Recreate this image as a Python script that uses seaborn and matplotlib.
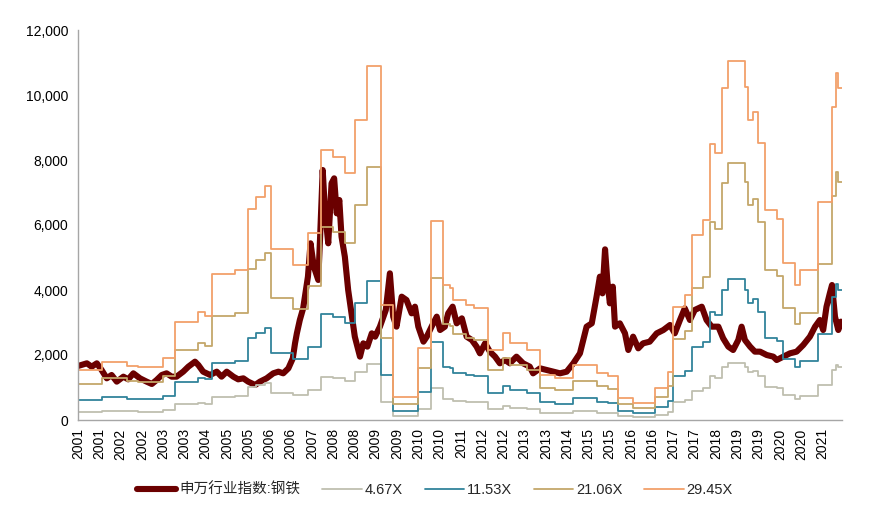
import numpy as np
import pandas as pd
import seaborn as sns
import matplotlib.pyplot as plt
from matplotlib.ticker import FuncFormatter

# ==[ Data ]==============================================================
# steel index level (x in fractional years)
idx_year = [2001.00, 2001.24, 2001.37, 2001.51, 2001.64, 2001.78, 2001.91, 2002.05,
            2002.23, 2002.36, 2002.50, 2002.68, 2002.86, 2003.00, 2003.13, 2003.27,
            2003.40, 2003.54, 2003.67, 2003.85, 2003.99, 2004.17, 2004.26, 2004.39,
            2004.58, 2004.76, 2004.89, 2005.03, 2005.21, 2005.34, 2005.48, 2005.61,
            2005.80, 2005.93, 2006.11, 2006.29, 2006.43, 2006.56, 2006.70, 2006.82,
            2006.88, 2006.93, 2007.01, 2007.10, 2007.23, 2007.30, 2007.39, 2007.51,
            2007.56, 2007.63, 2007.69, 2007.78, 2007.87, 2007.94, 2008.01, 2008.08,
            2008.14, 2008.23, 2008.32, 2008.41, 2008.50, 2008.64, 2008.73, 2008.84,
            2008.96, 2009.05, 2009.18, 2009.34, 2009.45, 2009.54, 2009.63, 2009.77,
            2009.90, 2010.04, 2010.13, 2010.22, 2010.36, 2010.45, 2010.58, 2010.72,
            2010.81, 2010.94, 2011.03, 2011.15, 2011.26, 2011.40, 2011.53, 2011.67,
            2011.80, 2011.89, 2012.03, 2012.16, 2012.30, 2012.43, 2012.57, 2012.70,
            2012.88, 2013.06, 2013.24, 2013.33, 2013.52, 2013.70, 2013.88, 2014.06,
            2014.24, 2014.42, 2014.60, 2014.78, 2014.92, 2015.05, 2015.14, 2015.21,
            2015.28, 2015.34, 2015.41, 2015.49, 2015.55, 2015.68, 2015.82, 2015.91,
            2016.04, 2016.18, 2016.31, 2016.49, 2016.68, 2016.86, 2017.04, 2017.17,
            2017.31, 2017.44, 2017.58, 2017.71, 2017.90, 2018.03, 2018.17, 2018.35,
            2018.48, 2018.62, 2018.75, 2018.89, 2018.98, 2019.07, 2019.21, 2019.34,
            2019.48, 2019.66, 2019.84, 2019.93, 2020.11, 2020.29, 2020.47, 2020.65,
            2020.83, 2020.97, 2021.10, 2021.19, 2021.28, 2021.37, 2021.43, 2021.51,
            2021.60, 2021.67]
idx_value = [1662, 1744, 1640, 1744, 1538, 1282, 1385, 1180,
             1333, 1251, 1436, 1282, 1180, 1108, 1231, 1385,
             1436, 1333, 1333, 1487, 1641, 1795, 1692, 1487,
             1385, 1487, 1333, 1487, 1333, 1251, 1282, 1180,
             1077, 1180, 1282, 1436, 1487, 1436, 1590, 1897,
             2359, 2667, 3077, 3436, 4410, 5436, 4718, 4308,
             5641, 7692, 6462, 5436, 7282, 7436, 6359, 6769,
             5641, 5025, 4000, 3282, 2564, 1949, 2359, 2257,
             2667, 2564, 2872, 3385, 4513, 3180, 2872, 3795,
             3692, 3282, 3487, 2872, 2410, 2564, 2872, 3180,
             2769, 2872, 3282, 3487, 2974, 3128, 2564, 2462,
             2257, 2051, 2359, 2103, 1949, 1744, 1846, 1744,
             1949, 1744, 1641, 1436, 1590, 1538, 1487, 1436,
             1487, 1744, 2051, 2872, 2974, 3795, 4410, 3897,
             5251, 4308, 3590, 4103, 2872, 2974, 2667, 2154,
             2564, 2205, 2359, 2410, 2667, 2769, 2923, 2667,
             3077, 3436, 3077, 3385, 3487, 3077, 2872, 2872,
             2513, 2257, 2154, 2462, 2872, 2462, 2257, 2103,
             2103, 2000, 1949, 1846, 1949, 2051, 2103, 2308,
             2564, 2872, 3077, 2769, 3487, 3897, 4154, 3180,
             2769, 3026]

# earnings per index point (step changes); band = eps * multiple
eps_year = [2001.00, 2001.65, 2002.33, 2002.63, 2003.30, 2003.63, 2004.25, 2004.44,
            2004.63, 2005.25, 2005.61, 2005.82, 2006.07, 2006.23, 2006.82, 2007.23,
            2007.58, 2007.91, 2008.23, 2008.50, 2008.83, 2009.21, 2009.53, 2010.21,
            2010.56, 2010.89, 2011.08, 2011.16, 2011.51, 2011.73, 2012.11, 2012.51,
            2012.70, 2013.16, 2013.52, 2013.92, 2014.41, 2015.06, 2015.36, 2015.63,
            2016.04, 2016.63, 2016.98, 2017.12, 2017.44, 2017.63, 2017.93, 2018.12,
            2018.26, 2018.45, 2018.61, 2019.07, 2019.15, 2019.29, 2019.42, 2019.61,
            2019.94, 2020.10, 2020.42, 2020.56, 2021.05, 2021.43, 2021.53, 2021.59,
            2021.70]
eps_value = [52.3, 60.8, 56.4, 55.0, 64.5, 102.2, 113.1, 108.7,
             152.5, 156.9, 220.0, 233.3, 244.5, 178.3, 162.0, 195.2,
             282.2, 275.0, 258.1, 313.4, 370.1, 120.2, 24.1, 75.6,
             208.1, 140.9, 137.9, 125.3, 120.2, 117.1, 73.0, 91.0,
             80.5, 73.0, 47.0, 43.8, 57.4, 49.2, 45.5, 23.1,
             17.7, 33.4, 50.3, 118.2, 130.7, 193.5, 208.8, 288.6,
             278.9, 346.4, 375.2, 348.0, 313.4, 322.2, 289.3, 219.4,
             210.5, 164.0, 140.9, 156.7, 228.2, 327.3, 362.6, 347.0,
             347.0]

multiples = [4.67, 11.53, 21.06, 29.45]
band_labels = ['4.67X', '11.53X', '21.06X', '29.45X']
index_label = '申万行业指数:钢铁'

tick_labels = ['2001', '2001', '2002', '2002', '2003', '2003', '2004', '2005', '2005',
               '2006', '2006', '2007', '2008', '2008', '2009', '2009', '2010', '2010',
               '2011', '2012', '2012', '2013', '2013', '2014', '2015', '2015', '2016',
               '2016', '2017', '2017', '2018', '2019', '2019', '2020', '2020', '2021']

# ==[ Styling ]===========================================================
sns.set_theme(style='white')
plt.rcParams['font.family'] = ['Liberation Sans', 'Noto Sans CJK SC', 'DejaVu Sans']

index_color = '#6B0000'
band_colors = ['#BFBFB0', '#31849B', '#C4A76A', '#F2A06A']
axis_color = '#A6A6A6'

# ==[ Plot ]==============================================================
fig = plt.figure(figsize=(8.8, 5.09), dpi=100)
ax = fig.add_axes([78 / 880, 89 / 509, 764 / 880, 390 / 509])

idx_df = pd.DataFrame({'year': idx_year, 'value': idx_value})
sns.lineplot(data=idx_df, x='year', y='value', ax=ax, color=index_color,
             linewidth=4.4, label=index_label, estimator=None, sort=False)

eps = np.array(eps_value)
for mult, lab, col in zip(multiples, band_labels, band_colors):
    band_df = pd.DataFrame({'year': eps_year, 'value': eps * mult})
    sns.lineplot(data=band_df, x='year', y='value', ax=ax, color=col,
                 linewidth=1.3, label=lab, estimator=None, sort=False,
                 drawstyle='steps-post')

ax.set_xlim(2001.0, 2021.7)
ax.set_ylim(0, 12000)
ax.set_yticks(np.arange(0, 12001, 2000))
ax.yaxis.set_major_formatter(FuncFormatter(lambda v, p: '{:,.0f}'.format(v)))

tick_pos = 2001.0 + np.arange(len(tick_labels)) * 0.5762
ax.set_xticks(tick_pos)
ax.set_xticklabels(tick_labels, rotation=90)
ax.set_xlabel('')
ax.set_ylabel('')

for side in ['top', 'right']:
    ax.spines[side].set_visible(False)
for side in ['left', 'bottom']:
    ax.spines[side].set_color(axis_color)
    ax.spines[side].set_linewidth(1.0)

ax.tick_params(axis='both', which='major', direction='out', length=4,
               width=1, color=axis_color, labelsize=10, labelcolor='black',
               pad=3)
ax.tick_params(axis='x', pad=2)

ax.legend(loc='center', bbox_to_anchor=(435 / 880, 1 - 490 / 509),
          bbox_transform=fig.transFigure, ncol=5, frameon=False,
          fontsize=10.5, handlelength=2.7, handletextpad=0.2,
          columnspacing=1.5)

fig.savefig('out.png', dpi=100)
